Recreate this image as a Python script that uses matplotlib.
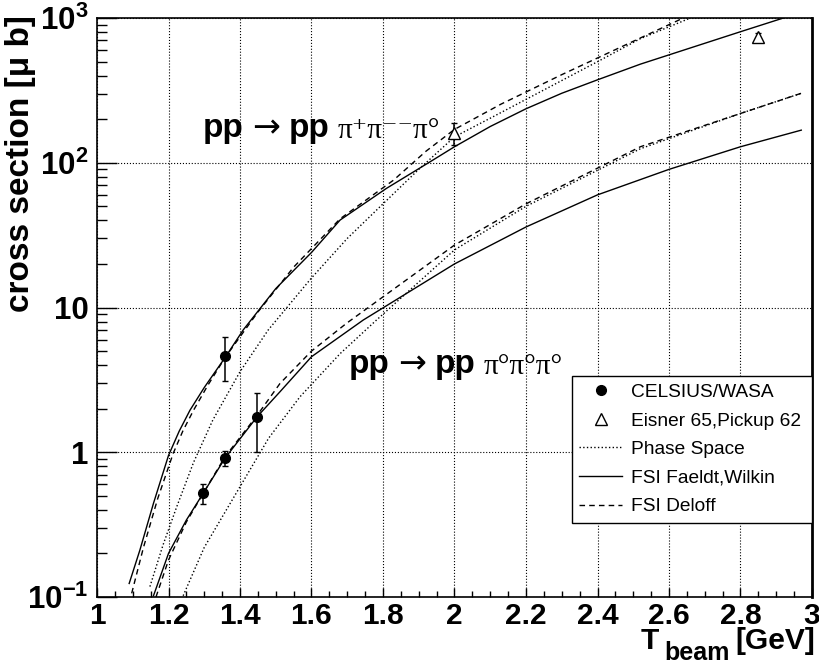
import numpy as np
import matplotlib.pyplot as plt
from matplotlib.lines import Line2D
from matplotlib.ticker import MultipleLocator, FixedLocator, FixedFormatter, LogLocator, NullFormatter

plt.rcParams['font.family'] = ['Liberation Sans', 'DejaVu Sans']
plt.rcParams['mathtext.fontset'] = 'custom'
plt.rcParams['mathtext.rm'] = 'Liberation Sans'
plt.rcParams['mathtext.bf'] = 'Liberation Sans:bold'
plt.rcParams['mathtext.it'] = 'Liberation Sans:italic'

# CELSIUS/WASA points (pi+pi-pi0 at 1.36, the rest pi0pi0pi0)
wasa_t = [1.358, 1.297, 1.358, 1.448]
wasa_xs = [4.62, 0.52, 0.91, 1.76]
wasa_lo = [1.52, 0.08, 0.11, 0.76]
wasa_hi = [1.63, 0.08, 0.11, 0.81]

# Eisner 65, Pickup 62
old_t = [2.0, 2.85]
old_xs = [161, 736]
old_err = [28, 50]

# pp -> pp pi+ pi- pi0
pm_ps_t = [1.148, 1.185, 1.223, 1.27, 1.324, 1.40, 1.479, 1.60, 1.70, 1.80, 1.90, 2.00, 2.108, 2.20, 2.40, 2.52, 2.66]
pm_ps_xs = [0.118, 0.23, 0.42, 0.85, 1.67, 3.6, 7.0, 16, 30, 52, 90, 151, 208, 274, 499, 720, 1000]
pm_fw_t = [1.090, 1.120, 1.158, 1.200, 1.230, 1.260, 1.300, 1.358, 1.409, 1.50, 1.60, 1.68, 1.81, 1.94,
           2.00, 2.10, 2.20, 2.30, 2.40, 2.52, 2.80, 2.92]
pm_fw_xs = [0.124, 0.211, 0.444, 0.95, 1.4, 1.95, 2.8, 4.5, 7.0, 13.5, 24, 40.2, 66.6, 104.5,
            129, 178, 236, 302, 374, 480, 804, 1000]
pm_de_t = [1.097, 1.130, 1.170, 1.213, 1.240, 1.270, 1.310, 1.358, 1.45, 1.55, 1.68, 1.83, 1.92,
           2.00, 2.13, 2.30, 2.52, 2.64]
pm_de_xs = [0.106, 0.22, 0.48, 0.98, 1.4, 1.95, 2.9, 4.5, 9.3, 19, 41, 76, 120,
            170, 254, 406, 728, 1000]

# pp -> pp pi0 pi0 pi0
p0_ps_t = [1.241, 1.30, 1.40, 1.48, 1.568, 1.68, 1.782, 2.00, 2.20, 2.52, 2.80, 2.97]
p0_ps_xs = [0.102, 0.22, 0.578, 1.25, 2.42, 4.8, 8.2, 25, 50, 125, 219, 302]
p0_fw_t = [1.158, 1.20, 1.25, 1.297, 1.358, 1.448, 1.512, 1.60, 1.745, 2.00, 2.20, 2.40, 2.60, 2.80, 2.97]
p0_fw_xs = [0.102, 0.2, 0.34, 0.52, 0.91, 1.76, 2.62, 4.57, 8.2, 20, 36, 60, 90, 129, 168]
p0_de_t = [1.165, 1.20, 1.25, 1.297, 1.358, 1.448, 1.512, 1.60, 1.698, 2.00, 2.20, 2.52, 2.80, 2.97]
p0_de_xs = [0.10, 0.18, 0.33, 0.52, 0.93, 1.8, 2.99, 5.0, 7.78, 27, 52, 129, 219, 302]

fig = plt.figure(figsize=(8.2, 6.67), dpi=100)
ax = fig.add_axes([97/820, 1-597/667, 715/820, 579/667])

dash = (0, (4, 3))
ax.plot(pm_ps_t, pm_ps_xs, color='black', linestyle=':', linewidth=1.0)
ax.plot(pm_fw_t, pm_fw_xs, color='black', linestyle='-', linewidth=1.0)
ax.plot(pm_de_t, pm_de_xs, color='black', linestyle=dash, linewidth=1.0)
ax.plot(p0_ps_t, p0_ps_xs, color='black', linestyle=':', linewidth=1.0)
ax.plot(p0_fw_t, p0_fw_xs, color='black', linestyle='-', linewidth=1.0)
ax.plot(p0_de_t, p0_de_xs, color='black', linestyle=dash, linewidth=1.0)

ax.errorbar(wasa_t, wasa_xs, yerr=[wasa_lo, wasa_hi], fmt='o', color='black',
            markersize=7, elinewidth=1.1, capsize=2)
ax.errorbar(old_t, old_xs, yerr=old_err, fmt='^', color='black', mfc='white',
            markersize=8, elinewidth=1.1, capsize=2)

ax.set_xlim(1, 3)
ax.set_yscale('log')
ax.set_ylim(0.1, 1000)

ax.xaxis.set_major_locator(MultipleLocator(0.2))
ax.xaxis.set_minor_locator(MultipleLocator(0.05))
ax.xaxis.set_major_formatter(plt.FuncFormatter(lambda v, p: '%g' % round(v, 2)))
ax.yaxis.set_major_locator(FixedLocator([0.1, 1, 10, 100, 1000]))
ax.yaxis.set_major_formatter(FixedFormatter([r'$\mathbf{10^{-1}}$', '1', '10',
                                             r'$\mathbf{10^{2}}$', r'$\mathbf{10^{3}}$']))
ax.yaxis.set_minor_locator(LogLocator(base=10, subs=np.arange(2, 10)))
ax.yaxis.set_minor_formatter(NullFormatter())

ax.tick_params(axis='x', which='major', direction='in', length=6.5, width=1, labelsize=21.5, pad=3.5)
ax.tick_params(axis='x', which='minor', direction='in', length=4, width=1)
ax.tick_params(axis='y', which='major', direction='in', length=14.5, width=1, labelsize=22.5, pad=6)
ax.tick_params(axis='y', which='minor', direction='in', length=7.2, width=1)
for lab in ax.get_xticklabels() + ax.get_yticklabels():
    lab.set_fontweight('bold')

ax.grid(True, which='major', color='black', linestyle=':', linewidth=0.8)
for s in ax.spines.values():
    s.set_linewidth(1.2)
ax.spines['right'].set_linewidth(2)

# x title: T_beam [GeV], built from pieces so the subscript can be larger
xt = (1.004, -0.0895)
ax.annotate('[GeV]', xy=xt, xycoords='axes fraction', ha='right', va='baseline',
            fontsize=21.6, fontweight='bold', annotation_clip=False)
ax.annotate('beam', xy=xt, xycoords='axes fraction', xytext=(-61.5, -7.8), textcoords='offset points',
            ha='right', va='baseline', fontsize=18, fontweight='bold', annotation_clip=False)
ax.annotate('T', xy=xt, xycoords='axes fraction', xytext=(-112.3, 0), textcoords='offset points',
            ha='right', va='baseline', fontsize=21.6, fontweight='bold', annotation_clip=False)

ax.set_ylabel('cross section [μ b]', fontsize=24, fontweight='bold', loc='top')
ax.yaxis.set_label_coords(-0.085, 1.005)

# reaction labels
def reaction(x, y, pions):
    t = ax.text(x, y, 'pp', fontsize=24, fontweight='bold', va='baseline')
    a = ax.annotate('→', xy=(1, 0), xycoords=t, xytext=(6, 0), textcoords='offset points',
                    fontsize=24, va='bottom', family='DejaVu Sans')
    b = ax.annotate('pp', xy=(1, 0), xycoords=a, xytext=(6, 0), textcoords='offset points',
                    fontsize=24, fontweight='bold', va='bottom')
    ax.annotate(pions, xy=(1, 0), xycoords=b, xytext=(6, 0), textcoords='offset points',
                fontsize=21, va='bottom', family=['Liberation Serif', 'DejaVu Serif'])

reaction(1.2965, 150.6, 'π⁺π⁻⁻π°')
reaction(1.705, 3.51, 'π°π°π°')

handles = [Line2D([], [], color='black', marker='o', linestyle='none', markersize=7),
           Line2D([], [], color='black', marker='^', mfc='white', linestyle='none', markersize=8),
           Line2D([], [], color='black', linestyle=':', linewidth=1.0),
           Line2D([], [], color='black', linestyle='-', linewidth=1.0),
           Line2D([], [], color='black', linestyle=dash, linewidth=1.0)]
leg = ax.legend(handles,
                ['CELSIUS/WASA', 'Eisner 65,Pickup 62', 'Phase Space', 'FSI Faeldt,Wilkin', 'FSI Deloff'],
                loc='lower left', bbox_to_anchor=(0.664, 0.128, 0.336, 0.25), mode='expand',
                borderaxespad=0, fontsize=13.8, handlelength=2.2, handletextpad=0.5,
                labelspacing=0.58, fancybox=False, framealpha=1, edgecolor='black')
leg.get_frame().set_linewidth(1.0)

fig.savefig('out.png', dpi=100)
